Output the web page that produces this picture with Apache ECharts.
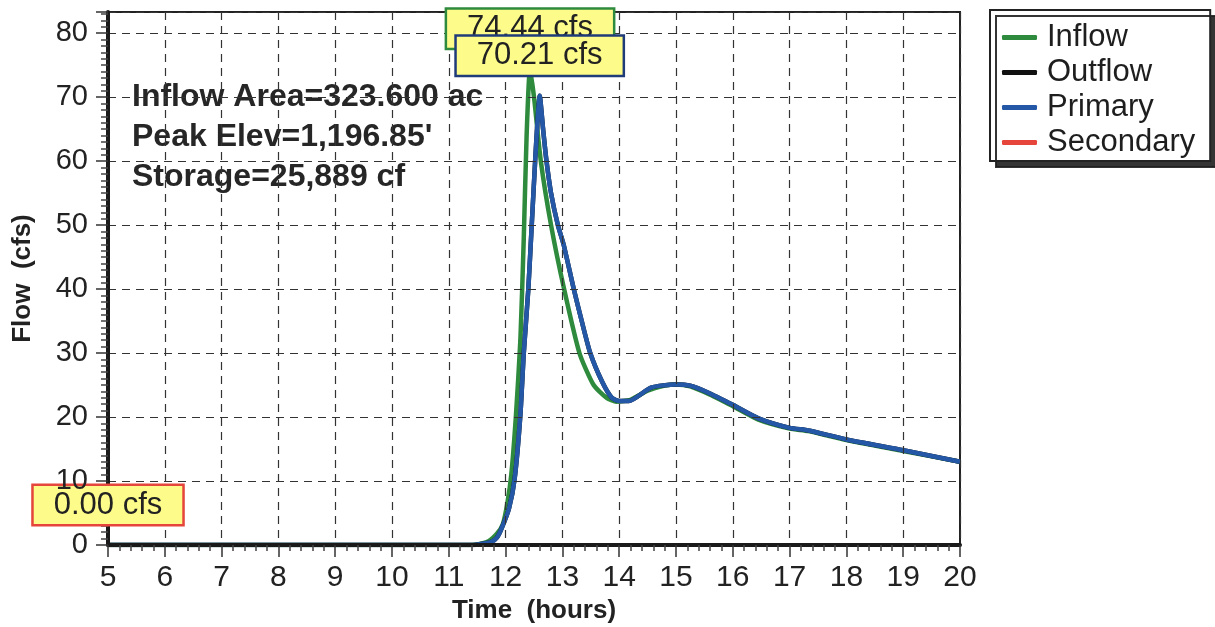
<!DOCTYPE html>
<html>
<head>
<meta charset="utf-8">
<title>Pond hydrograph</title>
<script src="https://cdn.jsdelivr.net/npm/echarts@6/dist/echarts.min.js"></script>
<style>
  html, body { margin: 0; padding: 0; background: #ffffff; }
  #chart { width: 1215px; height: 627px; }
</style>
</head>
<body>
<div id="chart"></div>
<script>
// Hydrograph: time in hours, flows in cfs
const inflowTime = [5, 11.3, 11.5, 11.7, 11.85, 11.95, 12.03, 12.1, 12.18, 12.26, 12.32, 12.37, 12.43,
  12.5, 12.62, 12.8, 13.03, 13.3, 13.55, 13.78, 13.95, 14.2, 14.5, 14.8, 15.0, 15.25, 15.6, 16.0,
  16.45, 17.0, 17.33, 18.0, 19.0, 20.0];
const inflowFlow = [0, 0, 0.1, 0.6, 1.8, 3.2, 6.5, 11, 20, 32, 48, 64, 74.44,
  70, 60, 50, 40, 30, 25, 23, 22.4, 22.7, 24.1, 24.9, 25.1, 24.8, 23.5, 21.7,
  19.6, 18.2, 17.8, 16.4, 14.7, 13.0];

const primaryTime = [5, 11.4, 11.6, 11.75, 11.85, 11.93, 12.06, 12.16, 12.26, 12.32, 12.4, 12.46, 12.52,
  12.56, 12.6, 12.66, 12.72, 12.8, 12.92, 13.02, 13.2, 13.34, 13.49, 13.7, 13.87, 14.0, 14.17, 14.56,
  15.0, 15.25, 15.57, 16.0, 16.45, 17.0, 17.33, 18.0, 19.0, 20.0];
const primaryFlow = [0, 0, 0.2, 0.5, 1.2, 2.6, 5.7, 10.4, 20.3, 30, 40, 50, 60,
  66, 70.21, 65, 60, 55, 50, 47, 40, 35, 30, 25.5, 23, 22.5, 22.5, 24.6,
  25.1, 24.9, 23.8, 21.9, 19.8, 18.3, 17.9, 16.5, 14.8, 13.0];
// Outflow leaves through the primary outlet only
const outflowFlow = [0, 0, 0.2, 0.5, 1.2, 2.6, 5.7, 10.4, 20.3, 30, 40, 50, 60,
  66, 70.21, 65, 60, 55, 50, 47, 40, 35, 30, 25.5, 23, 22.5, 22.5, 24.6,
  25.1, 24.9, 23.8, 21.9, 19.8, 18.3, 17.9, 16.5, 14.8, 13.0];

const secondaryTime = [5, 20];
const secondaryFlow = [0, 0];

const seriesNames = ['Inflow', 'Outflow', 'Primary', 'Secondary'];
const seriesColors = ['#2e8a3c', '#111111', '#2458a6', '#e5453a'];
const labelBorders = ['#2e8a3c', '#111111', '#1f3c78', '#e5453a'];

const inflowPeak = { time: 12.43, flow: 74.44 };
const primaryPeak = { time: 12.6, flow: 70.21 };
const secondaryPeak = { time: 5, flow: 0.00 };

const infoLines = ['Inflow Area=323.600 ac', 'Peak Elev=1,196.85\'', 'Storage=25,889 cf'];

const xTicks = { min: 5, max: 20, step: 1 };
const yTicks = { min: 0, max: 83.3, step: 10 };

const FONT = 'Liberation Sans, Arial, Helvetica, sans-serif';

function pairs(xs, ys) { return xs.map((x, i) => [x, ys[i]]); }

function peakMark(peak, idx) {
  return {
    symbol: 'rect',
    symbolSize: 0,
    silent: true,
    data: [{ coord: [peak.time, peak.flow], value: peak.flow }],
    label: {
      show: true,
      position: 'inside',
      offset: [0, -40],
      formatter: p => p.value.toFixed(2) + ' cfs',
      fontFamily: FONT,
      fontSize: 31,
      color: '#222',
      backgroundColor: '#fdfb8a',
      borderColor: labelBorders[idx],
      borderWidth: 2.5,
      padding: [4, 20, 3, 20]
    }
  };
}

const chart = echarts.init(document.getElementById('chart'), null, { renderer: 'canvas' });

const lineBase = {
  type: 'line',
  showSymbol: false,
  smooth: 0.2,
  animation: false
};

chart.setOption({
  animation: false,
  backgroundColor: '#ffffff',
  textStyle: { fontFamily: FONT },
  grid: {
    left: 108, right: 255, top: 12, bottom: 82,
    outerBoundsMode: 'none',
    containLabel: false,
    show: true, borderColor: '#222', borderWidth: 2, backgroundColor: 'transparent'
  },
  legend: {
    left: 990, top: 10,
    orient: 'vertical',
    padding: [12, 15, 3, 12],
    itemGap: 4,
    itemWidth: 35, itemHeight: 5,
    icon: 'roundRect',
    data: seriesNames,
    textStyle: { fontFamily: FONT, fontSize: 31, color: '#1e1e1e', padding: [0, 0, 0, 5] },
    backgroundColor: '#ffffff',
    borderColor: '#222',
    borderWidth: 2,
    borderRadius: 0,
    shadowColor: 'rgba(30,30,30,0.9)',
    shadowBlur: 0,
    shadowOffsetX: 6,
    shadowOffsetY: 6
  },
  xAxis: {
    type: 'value',
    min: xTicks.min, max: xTicks.max, interval: xTicks.step,
    z: 5,
    name: 'Time  (hours)',
    nameLocation: 'middle',
    nameGap: 47,
    nameTextStyle: { fontFamily: FONT, fontSize: 26, fontWeight: 'bold', color: '#222' },
    axisLine: { show: true, onZero: false, lineStyle: { color: '#1a1a1a', width: 4 } },
    axisTick: { show: true, length: 12, lineStyle: { color: '#333', width: 1.5 } },
    minorTick: { show: true, splitNumber: 5, length: 6, lineStyle: { color: '#444', width: 1.5 } },
    axisLabel: { fontFamily: FONT, fontSize: 30, color: '#222', margin: 18 },
    splitLine: { show: true, lineStyle: { color: '#333', width: 1.2, type: [8, 6] } }
  },
  yAxis: {
    type: 'value',
    min: yTicks.min, max: yTicks.max, interval: yTicks.step,
    z: 5,
    name: 'Flow  (cfs)',
    nameLocation: 'middle',
    nameGap: 72,
    nameTextStyle: { fontFamily: FONT, fontSize: 26, fontWeight: 'bold', color: '#222' },
    axisLine: { show: true, onZero: false, lineStyle: { color: '#1a1a1a', width: 4 } },
    axisTick: { show: true, length: 12, lineStyle: { color: '#333', width: 1.5 } },
    minorTick: { show: true, splitNumber: 10, length: 7, lineStyle: { color: '#444', width: 1.5 } },
    axisLabel: { fontFamily: FONT, fontSize: 29, color: '#222', margin: 20, showMaxLabel: false },
    splitLine: { show: true, lineStyle: { color: '#333', width: 1.2, type: [8, 6] } }
  },
  graphic: [{
    type: 'text',
    left: 132, top: 77,
    z: 3,
    style: {
      text: infoLines.join('\n'),
      fontFamily: FONT,
      fontSize: 32,
      fontWeight: 'bold',
      lineHeight: 40,
      fill: '#262626'
    }
  }],
  series: [
    Object.assign({}, lineBase, {
      name: seriesNames[0], data: pairs(inflowTime, inflowFlow), z: 2,
      color: seriesColors[0], lineStyle: { width: 4.5, color: seriesColors[0] },
      markPoint: peakMark(inflowPeak, 0)
    }),
    Object.assign({}, lineBase, {
      name: seriesNames[1], data: pairs(primaryTime, outflowFlow), z: 2,
      color: seriesColors[1], lineStyle: { width: 4.5, color: seriesColors[1] }
    }),
    Object.assign({}, lineBase, {
      name: seriesNames[2], data: pairs(primaryTime, primaryFlow), z: 2,
      color: seriesColors[2], lineStyle: { width: 4.5, color: seriesColors[2] },
      markPoint: peakMark(primaryPeak, 2)
    }),
    Object.assign({}, lineBase, {
      name: seriesNames[3], data: pairs(secondaryTime, secondaryFlow), z: 1,
      color: seriesColors[3], lineStyle: { width: 3, color: seriesColors[3] },
      markPoint: peakMark(secondaryPeak, 3)
    })
  ]
});
</script>
</body>
</html>
